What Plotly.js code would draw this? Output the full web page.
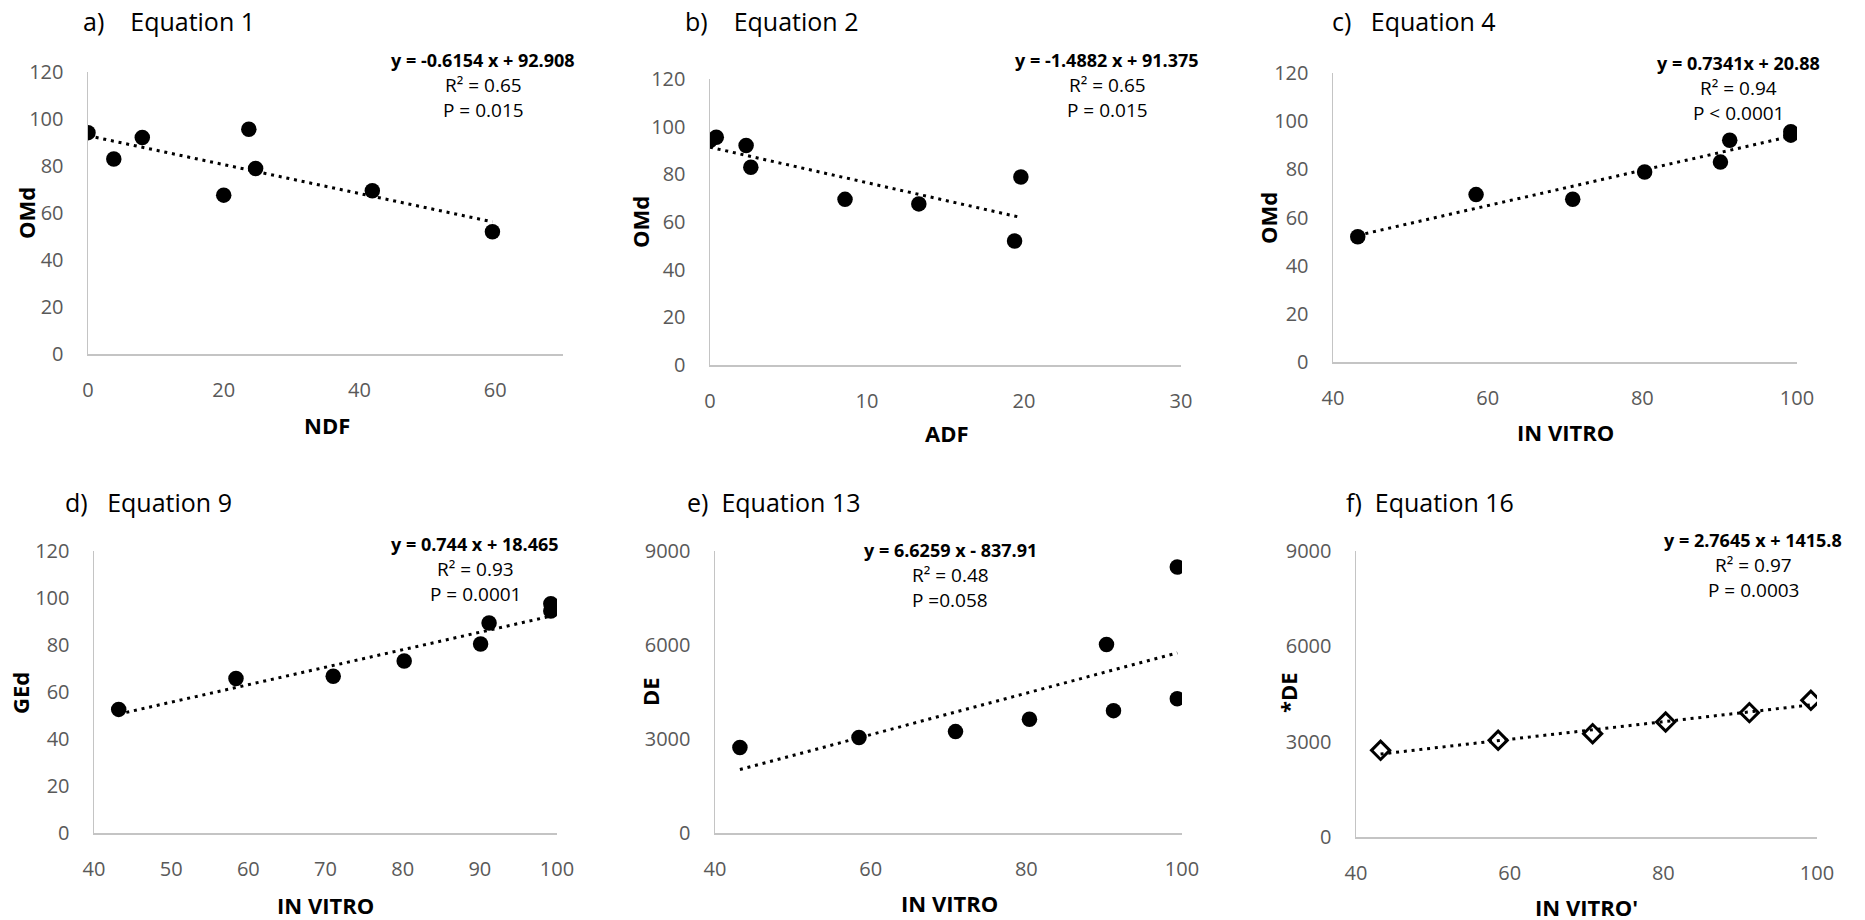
<!DOCTYPE html>
<html><head><meta charset="utf-8">
<script src="https://cdn.plot.ly/plotly-3.0.1.min.js"></script>
<style>html,body{margin:0;padding:0;background:#fff}#chart{width:1865px;height:920px}</style>
</head><body><div id="chart"></div>
<script>
// ---------- DATA ----------
// a) Equation 1
const ndfA = [0, 3.8, 8.0, 20.0, 23.7, 24.7, 41.9, 59.6];
const omdA = [94.2, 83.0, 92.1, 67.6, 95.6, 78.9, 69.5, 52.0];
// b) Equation 2
const adfB = [0, 0.4, 2.3, 2.6, 8.6, 13.3, 19.4, 19.8];
const omdB = [94.2, 95.6, 92.1, 83.0, 69.5, 67.6, 52.0, 78.9];
// c) Equation 4
const inVitroC = [43.2, 58.5, 71.0, 80.3, 90.1, 91.3, 99.2, 99.2];
const omdC = [52.0, 69.5, 67.6, 78.9, 83.0, 92.1, 95.6, 94.2];
// d) Equation 9
const inVitroD = [43.2, 58.4, 71.0, 80.2, 90.1, 91.2, 99.2, 99.2];
const gedD = [52.6, 65.7, 66.7, 73.2, 80.4, 89.4, 97.6, 94.5];
// e) Equation 13
const inVitroE = [43.2, 58.5, 70.9, 80.4, 90.3, 91.2, 99.4, 99.4];
const deE = [2727, 3045, 3236, 3629, 6016, 3905, 8488, 4287];
// f) Equation 16
const inVitroF = [43.2, 58.5, 70.8, 80.3, 91.2, 99.2];
const deF = [2727, 3042, 3252, 3619, 3913, 4301];

// trend lines (as drawn)
const trendSlope = [-0.6154, -1.4882, 0.7341, 0.744, 66.259, 27.645];
const trendIntercept = [92.908, 91.375, 20.88, 18.465, -837.91, 1415.8];

// texts
const panelLetters = ["a)", "b)", "c)", "d)", "e)", "f)"];
const panelNames = ["Equation 1", "Equation 2", "Equation 4", "Equation 9", "Equation 13", "Equation 16"];
const eqTexts = ["y = -0.6154 x + 92.908", "y = -1.4882 x + 91.375", "y = 0.7341x + 20.88",
                 "y = 0.744 x + 18.465", "y = 6.6259 x - 837.91", "y = 2.7645 x + 1415.8"];
const r2Texts = ["R² = 0.65", "R² = 0.65", "R² = 0.94", "R² = 0.93", "R² = 0.48", "R² = 0.97"];
const pTexts = ["P = 0.015", "P = 0.015", "P < 0.0001", "P = 0.0001", "P =0.058", "P = 0.0003"];
const xTitles = ["NDF", "ADF", "IN VITRO", "IN VITRO", "IN VITRO", "IN VITRO'"];
const yTitles = ["OMd", "OMd", "OMd", "GEd", "DE", "*DE"];
const xRanges = [[0, 70], [0, 30], [40, 100], [40, 100], [40, 100], [40, 100]];
const xDticks = [20, 10, 20, 10, 20, 20];
const yRanges = [[0, 120], [0, 120], [0, 120], [0, 120], [0, 9000], [0, 9000]];
const yDticks = [20, 20, 20, 20, 3000, 3000];

const xs = [ndfA, adfB, inVitroC, inVitroD, inVitroE, inVitroF];
const ys = [omdA, omdB, omdC, gedD, deE, deF];

// ---------- LAYOUT (pixel boxes) ----------
const W = 1865, H = 920;
const box = [
  {l: 88, r: 563, t: 72, b: 354, tx: 81, ty: 21, gap: 4, ex: 483, ey: [60, 85, 110], xt: [327, 425], yt: [26, 213]},
  {l: 710, r: 1181, t: 79, b: 365, tx: 683, ty: 21, gap: 4, ex: 1107, ey: [60, 85, 110], xt: [947, 433], yt: [640, 222]},
  {l: 1333, r: 1797, t: 73, b: 362, tx: 1330, ty: 21, gap: 3, ex: 1738, ey: [63, 88, 113], xt: [1565, 432], yt: [1268, 218]},
  {l: 94, r: 557, t: 551, b: 833, tx: 63, ty: 502, gap: 3, ex: 475, ey: [544, 569, 594], xt: [325, 905], yt: [20, 693]},
  {l: 715, r: 1182, t: 551, b: 833, tx: 685, ty: 502, gap: 2, ex: 950, ey: [550, 575, 600], xt: [949, 903], yt: [650, 692]},
  {l: 1356, r: 1817, t: 551, b: 837, tx: 1344, ty: 502, gap: 2, ex: 1753, ey: [540, 565, 590], xt: [1586, 907], yt: [1288, 693]}
];
const PX = v => v / W, PY = v => 1 - v / H;

const FONT = "Open Sans, Lato, sans-serif";
const traces = [];
const layout = {
  width: W, height: H, margin: {l: 0, r: 0, t: 0, b: 0},
  paper_bgcolor: "#fff", plot_bgcolor: "#fff", showlegend: false,
  font: {family: FONT, color: "#000"},
  annotations: []
};

for (let i = 0; i < 6; i++) {
  const b = box[i];
  const xa = i === 0 ? "x" : "x" + (i + 1);
  const ya = i === 0 ? "y" : "y" + (i + 1);
  const xk = i === 0 ? "xaxis" : "xaxis" + (i + 1);
  const yk = i === 0 ? "yaxis" : "yaxis" + (i + 1);
  layout[xk] = {
    domain: [PX(b.l), PX(b.r)], anchor: ya, range: xRanges[i], dtick: xDticks[i], tick0: 0,
    showline: true, linecolor: "#c4c4c4", linewidth: 1.5, showgrid: false, zeroline: false,
    ticks: "outside", ticklen: 17, tickcolor: "rgba(0,0,0,0)",
    tickfont: {family: FONT, size: 20, color: "#595959"}
  };
  layout[yk] = {
    domain: [PY(b.b), PY(b.t)], anchor: xa, range: yRanges[i], dtick: yDticks[i], tick0: 0,
    showline: true, linecolor: "#c4c4c4", linewidth: 1.5, showgrid: false, zeroline: false,
    ticks: "outside", ticklen: 19, tickcolor: "rgba(0,0,0,0)",
    tickfont: {family: FONT, size: 20, color: "#595959"}
  };
  const diamond = i === 5;
  traces.push({
    type: "scatter", mode: "markers", x: xs[i], y: ys[i], xaxis: xa, yaxis: ya,
    marker: diamond ? {symbol: "diamond", size: 14, color: "#fff", line: {color: "#000", width: 3}}
                    : {symbol: "circle", size: 15.5, color: "#000", line: {width: 0}},
    hoverinfo: "x+y"
  });
  const xmin = Math.min(...xs[i]), xmax = Math.max(...xs[i]);
  traces.push({
    type: "scatter", mode: "lines", xaxis: xa, yaxis: ya,
    x: [xmin, xmax],
    y: [trendSlope[i] * xmin + trendIntercept[i], trendSlope[i] * xmax + trendIntercept[i]],
    line: {color: "#000", width: 3, dash: "3px,4.8px"}, hoverinfo: "skip"
  });
  // panel title
  layout.annotations.push({
    xref: "paper", yref: "paper", x: PX(b.tx), y: PY(b.ty), xanchor: "left", yanchor: "middle",
    text: panelLetters[i] + "\u00a0".repeat(b.gap) + panelNames[i], showarrow: false,
    font: {family: FONT, size: 25, color: "#000"}
  });
  // equation block
  const lines = [eqTexts[i], r2Texts[i], pTexts[i]];
  lines.forEach((t, k) => layout.annotations.push({
    xref: "paper", yref: "paper", x: PX(b.ex), y: PY(b.ey[k]), xanchor: "center", yanchor: "middle",
    text: k === 0 ? "<b>" + t + "</b>" : t, showarrow: false,
    font: {family: FONT, size: k === 0 ? 18 : 19, color: "#000"}
  }));
  // axis titles
  layout.annotations.push({
    xref: "paper", yref: "paper", x: PX(b.xt[0]), y: PY(b.xt[1]), xanchor: "center", yanchor: "middle",
    text: "<b>" + xTitles[i] + "</b>", showarrow: false, font: {family: FONT, size: 22, color: "#000"}
  });
  layout.annotations.push({
    xref: "paper", yref: "paper", x: PX(b.yt[0]), y: PY(b.yt[1]), xanchor: "center", yanchor: "middle",
    text: "<b>" + yTitles[i] + "</b>", textangle: -90, showarrow: false, font: {family: FONT, size: 22, color: "#000"}
  });
}

Plotly.newPlot("chart", traces, layout, {displayModeBar: false, staticPlot: true});
</script>
</body></html>
